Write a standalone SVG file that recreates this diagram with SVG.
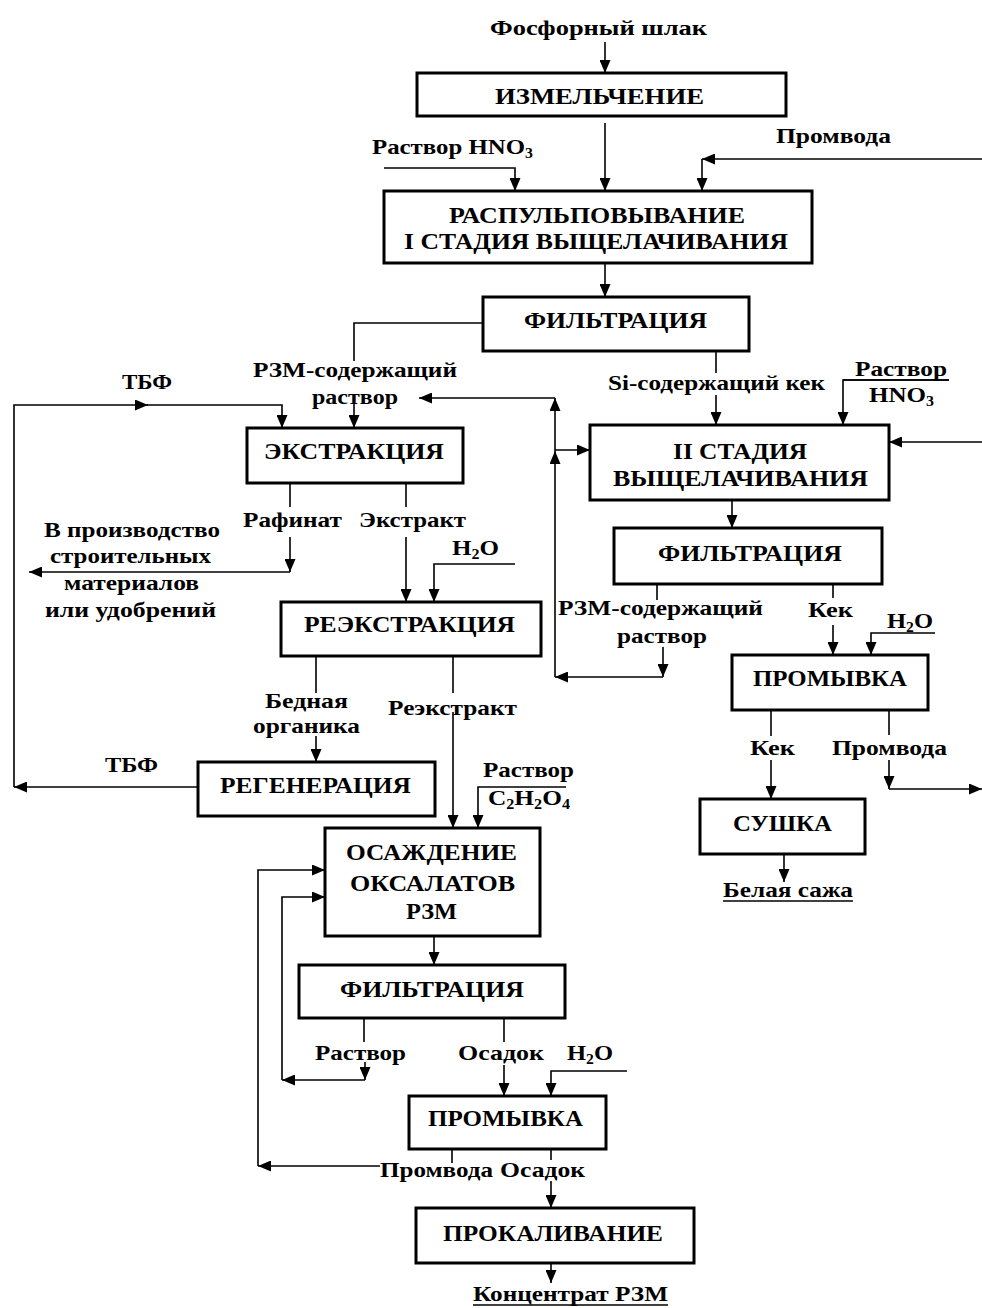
<svg xmlns="http://www.w3.org/2000/svg" width="982" height="1308" viewBox="0 0 982 1308">
  <style>
    .box { fill: #ffffff; stroke: #000000; stroke-width: 3; }
    .bt { font-family: "Liberation Serif", "Times New Roman", serif; font-weight: bold; font-size: 24px; fill: #000000; }
    .lb { font-family: "Liberation Serif", "Times New Roman", serif; font-weight: bold; font-size: 22px; fill: #000000; }
    .sub { font-size: 14px; }
    .ln { fill: none; stroke: #000000; stroke-width: 1.6; }
    .arr { fill: none; stroke: #000000; stroke-width: 1.6; marker-end: url(#ah); }
    .ul { stroke: #000000; stroke-width: 1.5; }
  </style>
  <defs>
    <marker id="ah" markerUnits="userSpaceOnUse" markerWidth="13" markerHeight="11" refX="13" refY="5.5" orient="auto">
      <path d="M0,0 L13,5.5 L0,11 z" fill="#000000"/>
    </marker>
  </defs>
  <rect width="982" height="1308" fill="#ffffff"/>

  <!-- connectors -->
  <g id="connectors">
    <path class="arr" d="M605,42 V73"/>
    <path class="arr" d="M605,123 V191"/>
    <path class="arr" d="M384,168 H515 V191"/>
    <path class="arr" d="M982,159 H702"/>
    <path class="arr" d="M702,159 V191"/>
    <path class="arr" d="M605,263 V297"/>

    <!-- first filtration: rare-earth solution to extraction -->
    <path class="ln" d="M483,323 H354 V361"/>
    <path class="arr" d="M354,402 V428"/>
    <!-- TBP loop -->
    <path class="arr" d="M198,787 H14"/>
    <path class="arr" d="M14,787 V405 H148"/>
    <path class="arr" d="M147,405 H282 V428"/>
    <!-- raffinate / extract -->
    <path class="ln" d="M290,483 V507"/>
    <path class="arr" d="M290,537 V572"/>
    <path class="arr" d="M290,572 H29"/>
    <path class="ln" d="M406,483 V507"/>
    <path class="arr" d="M406,537 V602"/>
    <path class="arr" d="M515,564 H434 V602"/>

    <!-- Si cake to second leaching -->
    <path class="ln" d="M716,351 V373"/>
    <path class="arr" d="M716,395 V425"/>
    <path class="arr" d="M949,380 H843 V425"/>
    <path class="arr" d="M982,442 H889"/>
    <path class="arr" d="M732,500 V528"/>

    <!-- second filtration: solution recycle -->
    <path class="ln" d="M657,584 V600"/>
    <path class="arr" d="M663,647 V677"/>
    <path class="arr" d="M663,677 H555"/>
    <path class="arr" d="M555,677 V451"/>
    <path class="arr" d="M555,451 V398"/>
    <path class="arr" d="M555,398 H419"/>
    <path class="arr" d="M555,450 H590"/>

    <!-- cake washing -->
    <path class="ln" d="M833,584 V598"/>
    <path class="arr" d="M833,625 V655"/>
    <path class="arr" d="M935,633 H871 V655"/>
    <path class="ln" d="M771,710 V736"/>
    <path class="arr" d="M771,760 V799"/>
    <path class="ln" d="M889,710 V735"/>
    <path class="arr" d="M889,760 V789"/>
    <path class="arr" d="M889,789 H982"/>
    <path class="arr" d="M784,854 V882"/>

    <!-- stripping outputs -->
    <path class="ln" d="M316,656 V693"/>
    <path class="arr" d="M316,736 V762"/>
    <path class="ln" d="M453,656 V693"/>
    <path class="arr" d="M453,712 V828"/>
    <path class="arr" d="M566,787 H478 V828"/>

    <!-- oxalate precipitation and downstream -->
    <path class="arr" d="M434,936 V965"/>
    <path class="ln" d="M364,1018 V1042"/>
    <path class="arr" d="M365,1062 V1080"/>
    <path class="arr" d="M365,1080 H282"/>
    <path class="arr" d="M282,1080 V897 H325"/>
    <path class="ln" d="M504,1018 V1042"/>
    <path class="arr" d="M504,1065 V1096"/>
    <path class="arr" d="M627,1071 H551 V1096"/>
    <path class="ln" d="M452,1149 V1163"/>
    <path class="arr" d="M380,1166 H258"/>
    <path class="arr" d="M258,1166 V870 H325"/>
    <path class="ln" d="M551,1149 V1160"/>
    <path class="arr" d="M551,1181 V1208"/>
    <path class="arr" d="M551,1263 V1283"/>
  </g>

  <!-- process nodes -->
  <g id="izmelchenie">
    <rect class="box" x="417" y="73" width="369" height="43"/>
    <text class="bt" x="495" y="104" textLength="209" lengthAdjust="spacingAndGlyphs">ИЗМЕЛЬЧЕНИЕ</text>
  </g>
  <g id="raspulpovyvanie">
    <rect class="box" x="384" y="191" width="428" height="72"/>
    <text class="bt" x="449" y="223" textLength="296" lengthAdjust="spacingAndGlyphs">РАСПУЛЬПОВЫВАНИЕ</text>
    <text class="bt" x="404" y="249" textLength="384" lengthAdjust="spacingAndGlyphs">I СТАДИЯ ВЫЩЕЛАЧИВАНИЯ</text>
  </g>
  <g id="filtration-1">
    <rect class="box" x="483" y="297" width="266" height="54"/>
    <text class="bt" x="524" y="328" textLength="183" lengthAdjust="spacingAndGlyphs">ФИЛЬТРАЦИЯ</text>
  </g>
  <g id="extraction">
    <rect class="box" x="247" y="428" width="216" height="55"/>
    <text class="bt" x="264" y="459" textLength="180" lengthAdjust="spacingAndGlyphs">ЭКСТРАКЦИЯ</text>
  </g>
  <g id="stripping">
    <rect class="box" x="281" y="602" width="260" height="54"/>
    <text class="bt" x="304" y="632" textLength="211" lengthAdjust="spacingAndGlyphs">РЕЭКСТРАКЦИЯ</text>
  </g>
  <g id="leaching-2">
    <rect class="box" x="590" y="425" width="299" height="75"/>
    <text class="bt" x="673" y="459" textLength="134" lengthAdjust="spacingAndGlyphs">II СТАДИЯ</text>
    <text class="bt" x="613" y="486" textLength="255" lengthAdjust="spacingAndGlyphs">ВЫЩЕЛАЧИВАНИЯ</text>
  </g>
  <g id="filtration-2">
    <rect class="box" x="614" y="528" width="268" height="56"/>
    <text class="bt" x="658" y="561" textLength="184" lengthAdjust="spacingAndGlyphs">ФИЛЬТРАЦИЯ</text>
  </g>
  <g id="washing-1">
    <rect class="box" x="732" y="655" width="196" height="55"/>
    <text class="bt" x="753" y="686" textLength="154" lengthAdjust="spacingAndGlyphs">ПРОМЫВКА</text>
  </g>
  <g id="drying">
    <rect class="box" x="700" y="799" width="165" height="55"/>
    <text class="bt" x="733" y="831" textLength="99" lengthAdjust="spacingAndGlyphs">СУШКА</text>
  </g>
  <g id="regeneration">
    <rect class="box" x="198" y="762" width="237" height="54"/>
    <text class="bt" x="220" y="793" textLength="191" lengthAdjust="spacingAndGlyphs">РЕГЕНЕРАЦИЯ</text>
  </g>
  <g id="oxalate-precipitation">
    <rect class="box" x="325" y="828" width="215" height="108"/>
    <text class="bt" x="346" y="860" textLength="171" lengthAdjust="spacingAndGlyphs">ОСАЖДЕНИЕ</text>
    <text class="bt" x="350" y="891" textLength="165" lengthAdjust="spacingAndGlyphs">ОКСАЛАТОВ</text>
    <text class="bt" x="406" y="919" textLength="51" lengthAdjust="spacingAndGlyphs">РЗМ</text>
  </g>
  <g id="filtration-3">
    <rect class="box" x="299" y="965" width="266" height="53"/>
    <text class="bt" x="340" y="997" textLength="184" lengthAdjust="spacingAndGlyphs">ФИЛЬТРАЦИЯ</text>
  </g>
  <g id="washing-2">
    <rect class="box" x="409" y="1096" width="197" height="53"/>
    <text class="bt" x="428" y="1126" textLength="155" lengthAdjust="spacingAndGlyphs">ПРОМЫВКА</text>
  </g>
  <g id="calcination">
    <rect class="box" x="416" y="1208" width="278" height="55"/>
    <text class="bt" x="443" y="1241" textLength="220" lengthAdjust="spacingAndGlyphs">ПРОКАЛИВАНИЕ</text>
  </g>

  <!-- stream labels -->
  <g id="labels">
    <text class="lb" x="490" y="35" textLength="217" lengthAdjust="spacingAndGlyphs">Фосфорный шлак</text>
    <text class="lb" x="372" y="154" textLength="161" lengthAdjust="spacingAndGlyphs">Раствор HNO<tspan class="sub" dy="4">3</tspan></text>
    <text class="lb" x="776" y="143" textLength="115" lengthAdjust="spacingAndGlyphs">Промвода</text>
    <text class="lb" x="253" y="377" textLength="204" lengthAdjust="spacingAndGlyphs">РЗМ-содержащий</text>
    <text class="lb" x="312" y="404" textLength="86" lengthAdjust="spacingAndGlyphs">раствор</text>
    <text class="lb" x="122" y="389" textLength="50" lengthAdjust="spacingAndGlyphs">ТБФ</text>
    <text class="lb" x="608" y="390" textLength="217" lengthAdjust="spacingAndGlyphs">Si-содержащий кек</text>
    <text class="lb" x="855" y="376" textLength="92" lengthAdjust="spacingAndGlyphs">Раствор</text>
    <line class="ul" x1="843" y1="380" x2="949" y2="380"/>
    <text class="lb" x="869" y="402" textLength="65" lengthAdjust="spacingAndGlyphs">HNO<tspan class="sub" dy="4">3</tspan></text>
    <text class="lb" x="243" y="527" textLength="99" lengthAdjust="spacingAndGlyphs">Рафинат</text>
    <text class="lb" x="359" y="527" textLength="107" lengthAdjust="spacingAndGlyphs">Экстракт</text>
    <text class="lb" x="44" y="537" textLength="176" lengthAdjust="spacingAndGlyphs">В производство</text>
    <text class="lb" x="50" y="563" textLength="161" lengthAdjust="spacingAndGlyphs">строительных</text>
    <text class="lb" x="64" y="590" textLength="135" lengthAdjust="spacingAndGlyphs">материалов</text>
    <text class="lb" x="45" y="617" textLength="171" lengthAdjust="spacingAndGlyphs">или удобрений</text>
    <text class="lb" x="452" y="555" textLength="47" lengthAdjust="spacingAndGlyphs">H<tspan class="sub" dy="4">2</tspan><tspan dy="-4">O</tspan></text>
    <text class="lb" x="558" y="615" textLength="205" lengthAdjust="spacingAndGlyphs">РЗМ-содержащий</text>
    <text class="lb" x="617" y="643" textLength="90" lengthAdjust="spacingAndGlyphs">раствор</text>
    <text class="lb" x="808" y="617" textLength="45" lengthAdjust="spacingAndGlyphs">Кек</text>
    <text class="lb" x="887" y="628" textLength="46" lengthAdjust="spacingAndGlyphs">H<tspan class="sub" dy="4">2</tspan><tspan dy="-4">O</tspan></text>
    <text class="lb" x="265" y="708" textLength="83" lengthAdjust="spacingAndGlyphs">Бедная</text>
    <text class="lb" x="253" y="733" textLength="107" lengthAdjust="spacingAndGlyphs">органика</text>
    <text class="lb" x="388" y="715" textLength="129" lengthAdjust="spacingAndGlyphs">Реэкстракт</text>
    <text class="lb" x="105" y="772" textLength="53" lengthAdjust="spacingAndGlyphs">ТБФ</text>
    <text class="lb" x="483" y="777" textLength="91" lengthAdjust="spacingAndGlyphs">Раствор</text>
    <text class="lb" x="488" y="805" textLength="82" lengthAdjust="spacingAndGlyphs">C<tspan class="sub" dy="4">2</tspan><tspan dy="-4">H</tspan><tspan class="sub" dy="4">2</tspan><tspan dy="-4">O</tspan><tspan class="sub" dy="4">4</tspan></text>
    <text class="lb" x="750" y="755" textLength="45" lengthAdjust="spacingAndGlyphs">Кек</text>
    <text class="lb" x="832" y="755" textLength="115" lengthAdjust="spacingAndGlyphs">Промвода</text>
    <text class="lb" x="723" y="897" textLength="130" lengthAdjust="spacingAndGlyphs">Белая сажа</text>
    <line class="ul" x1="723" y1="901" x2="853" y2="901"/>
    <text class="lb" x="315" y="1060" textLength="91" lengthAdjust="spacingAndGlyphs">Раствор</text>
    <text class="lb" x="458" y="1060" textLength="86" lengthAdjust="spacingAndGlyphs">Осадок</text>
    <text class="lb" x="567" y="1060" textLength="46" lengthAdjust="spacingAndGlyphs">H<tspan class="sub" dy="4">2</tspan><tspan dy="-4">O</tspan></text>
    <text class="lb" x="380" y="1177" textLength="113" lengthAdjust="spacingAndGlyphs">Промвода</text>
    <text class="lb" x="500" y="1177" textLength="85" lengthAdjust="spacingAndGlyphs">Осадок</text>
    <text class="lb" x="473" y="1301" textLength="195" lengthAdjust="spacingAndGlyphs">Концентрат РЗМ</text>
    <line class="ul" x1="473" y1="1305" x2="668" y2="1305"/>
  </g>
</svg>
